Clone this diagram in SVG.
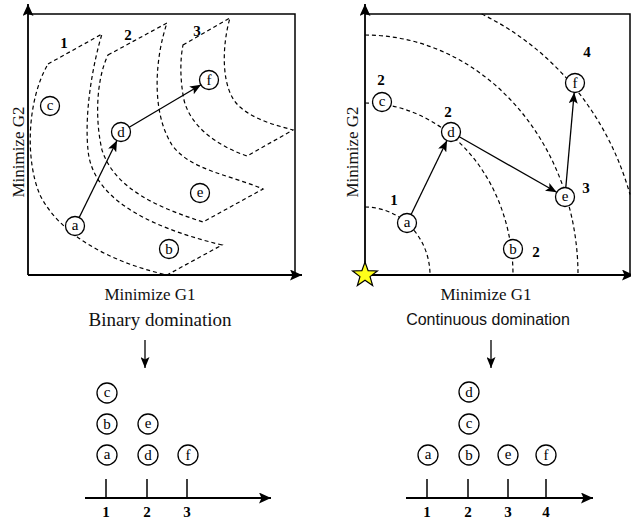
<svg xmlns="http://www.w3.org/2000/svg" width="631" height="521" viewBox="0 0 631 521">
<style>
.ax{stroke:#000;stroke-width:1.8;fill:none}
.bx{stroke:#000;stroke-width:1.5;fill:none}
.dash{stroke:#000;stroke-width:1.2;fill:none;stroke-dasharray:4 3}
.arr{stroke:#000;stroke-width:1.3;fill:none;marker-end:url(#ah)}
.nd circle{fill:#fff;stroke:#000;stroke-width:1.3}
.nd text{font-family:"Liberation Serif",serif;font-size:15px;text-anchor:middle;fill:#000}
.num{font-family:"Liberation Serif",serif;font-size:15px;font-weight:bold;text-anchor:middle;fill:#000}
.lbl{font-family:"Liberation Serif",serif;font-size:17px;text-anchor:middle;fill:#111}
.sans{font-family:"Liberation Sans",sans-serif;font-size:16px;text-anchor:middle;fill:#111}
</style>
<defs>
<marker id="ah" markerUnits="userSpaceOnUse" markerWidth="12" markerHeight="9" refX="11" refY="4.5" orient="auto">
<path d="M0,0 L11,4.5 L0,9 L2.5,4.5 z" fill="#000"/>
</marker>
<marker id="axh" markerUnits="userSpaceOnUse" markerWidth="13" markerHeight="11" refX="12" refY="5.5" orient="auto">
<path d="M0,0 L12,5.5 L0,11 L2.5,5.5 z" fill="#000"/>
</marker>
</defs>

<!-- Left panel axes and box -->
<g id="left-axes">
<line class="ax" x1="28" y1="275" x2="28" y2="4" marker-end="url(#axh)"/>
<line class="ax" x1="28" y1="275" x2="302" y2="275" marker-end="url(#axh)"/>
<polyline class="bx" points="28,14 295,14 295,275"/>
</g>

<!-- Left fronts -->
<g id="left-fronts">
<path class="dash" d="M48,64 L102,34 C94,60 84,110 88,150 C92,195 140,225 222,245 L167,275 C110,262 60,235 40,195 C25,160 27,100 48,64 Z"/>
<path class="dash" d="M108,55 L167,23 C156,55 150,110 172,145 C190,170 230,175 263,189 L203,222 C160,208 115,190 102,150 C95,120 96,80 108,55 Z"/>
<path class="dash" d="M183,45 L230,18 C222,45 220,90 240,107 C255,120 275,125 293,130 L247,156 C215,145 190,125 184,100 C180,80 180,60 183,45 Z"/>
</g>

<!-- Right panel axes and box -->
<g id="right-axes">
<line class="ax" x1="365" y1="275" x2="365" y2="4" marker-end="url(#axh)"/>
<line class="ax" x1="365" y1="275" x2="634" y2="275" marker-end="url(#axh)"/>
<polyline class="bx" points="365,14 630,14 630,275"/>
</g>

<!-- Right fronts -->
<g id="right-fronts">
<path class="dash" d="M365,207 A65,68 0 0 1 430,275"/>
<path class="dash" d="M365,103 A148,172 0 0 1 513,275"/>
<path class="dash" d="M365,35 A213,240 0 0 1 578,275"/>
<path class="dash" d="M481.7,14 A276,288 0 0 1 630,194.5"/>
</g>

<!-- Connectors -->
<g id="connectors">
<line class="arr" x1="79.2" y1="217.5" x2="117" y2="140.5"/>
<line class="arr" x1="129.2" y1="127.2" x2="201" y2="84.8"/>
<line class="arr" x1="411.1" y1="214.5" x2="447" y2="140.5"/>
<line class="arr" x1="459.3" y1="136.7" x2="556.7" y2="192.3"/>
<line class="arr" x1="565.8" y1="187.5" x2="574.2" y2="92.5"/>
<line class="arr" x1="145" y1="340" x2="145" y2="368"/>
<line class="arr" x1="491" y1="340" x2="491" y2="368"/>
</g>

<!-- Left panel nodes -->
<g id="L-c" class="nd"><circle cx="50" cy="106" r="9.5"/><text x="50" y="110">c</text></g>
<g id="L-d" class="nd"><circle cx="121" cy="132" r="9.5"/><text x="121" y="137">d</text></g>
<g id="L-f" class="nd"><circle cx="209" cy="80" r="9.5"/><text x="209" y="85">f</text></g>
<g id="L-e" class="nd"><circle cx="200" cy="193" r="9.5"/><text x="200" y="197">e</text></g>
<g id="L-a" class="nd"><circle cx="75" cy="226" r="9.5"/><text x="75" y="230">a</text></g>
<g id="L-b" class="nd"><circle cx="169" cy="249" r="9.5"/><text x="169" y="254">b</text></g>
<g id="L-labels">
<text class="num" x="64" y="48">1</text>
<text class="num" x="128" y="40">2</text>
<text class="num" x="197" y="36">3</text>
<text class="lbl" transform="translate(24,152) rotate(-90)">Minimize G2</text>
<text class="lbl" x="150" y="300">Minimize G1</text>
<text class="lbl" x="160" y="326" style="font-size:19px">Binary domination</text>
</g>

<!-- Right panel nodes -->
<g id="R-c" class="nd"><circle cx="382" cy="102" r="9.5"/><text x="382" y="106">c</text></g>
<g id="R-d" class="nd"><circle cx="451" cy="132" r="9.5"/><text x="451" y="137">d</text></g>
<g id="R-a" class="nd"><circle cx="407" cy="223" r="9.5"/><text x="407" y="227">a</text></g>
<g id="R-b" class="nd"><circle cx="513" cy="249" r="9.5"/><text x="513" y="254">b</text></g>
<g id="R-e" class="nd"><circle cx="565" cy="197" r="9.5"/><text x="565" y="201">e</text></g>
<g id="R-f" class="nd"><circle cx="575" cy="83" r="9.5"/><text x="575" y="88">f</text></g>
<g id="R-star"><polygon points="365,262 368.12,270.71 377.36,270.98 370.04,276.64 372.64,285.52 365,280.3 357.36,285.52 359.96,276.64 352.64,270.98 361.88,270.71" fill="#ffff1a" stroke="#000" stroke-width="1.2"/></g>
<g id="R-labels">
<text class="num" x="381" y="85">2</text>
<text class="num" x="448" y="117">2</text>
<text class="num" x="394" y="205">1</text>
<text class="num" x="536" y="257">2</text>
<text class="num" x="586" y="193">3</text>
<text class="num" x="587" y="57">4</text>
<text class="lbl" transform="translate(358,152) rotate(-90)">Minimize G2</text>
<text class="lbl" x="486" y="300">Minimize G1</text>
<text class="sans" x="488" y="325">Continuous domination</text>
</g>

<!-- Bottom left ranking -->
<g id="BL-axis">
<line class="ax" x1="85" y1="498" x2="271" y2="498" marker-end="url(#axh)"/>
<line class="bx" x1="106" y1="479" x2="106" y2="498"/>
<line class="bx" x1="147" y1="479" x2="147" y2="498"/>
<line class="bx" x1="187" y1="479" x2="187" y2="498"/>
<text class="num" x="106" y="517">1</text>
<text class="num" x="147" y="517">2</text>
<text class="num" x="187" y="517">3</text>
</g>
<g id="BL-c" class="nd"><circle cx="107" cy="393" r="10"/><text x="107" y="397">c</text></g>
<g id="BL-b" class="nd"><circle cx="107" cy="424" r="10"/><text x="107" y="429">b</text></g>
<g id="BL-e" class="nd"><circle cx="148" cy="424" r="10"/><text x="148" y="428">e</text></g>
<g id="BL-a" class="nd"><circle cx="107" cy="455" r="10"/><text x="107" y="459">a</text></g>
<g id="BL-d" class="nd"><circle cx="148" cy="455" r="10"/><text x="148" y="460">d</text></g>
<g id="BL-f" class="nd"><circle cx="188" cy="455" r="10"/><text x="188" y="460">f</text></g>

<!-- Bottom right ranking -->
<g id="BR-axis">
<line class="ax" x1="406" y1="498" x2="593" y2="498" marker-end="url(#axh)"/>
<line class="bx" x1="427" y1="479" x2="427" y2="498"/>
<line class="bx" x1="468" y1="479" x2="468" y2="498"/>
<line class="bx" x1="508" y1="479" x2="508" y2="498"/>
<line class="bx" x1="546" y1="479" x2="546" y2="498"/>
<text class="num" x="427" y="517">1</text>
<text class="num" x="468" y="517">2</text>
<text class="num" x="508" y="517">3</text>
<text class="num" x="546" y="517">4</text>
</g>
<g id="BR-d" class="nd"><circle cx="469" cy="392" r="10"/><text x="469" y="397">d</text></g>
<g id="BR-c" class="nd"><circle cx="469" cy="424" r="10"/><text x="469" y="428">c</text></g>
<g id="BR-a" class="nd"><circle cx="428" cy="455" r="10"/><text x="428" y="459">a</text></g>
<g id="BR-b" class="nd"><circle cx="469" cy="455" r="10"/><text x="469" y="460">b</text></g>
<g id="BR-e" class="nd"><circle cx="508" cy="455" r="10"/><text x="508" y="459">e</text></g>
<g id="BR-f" class="nd"><circle cx="546" cy="455" r="10"/><text x="546" y="460">f</text></g>
</svg>
